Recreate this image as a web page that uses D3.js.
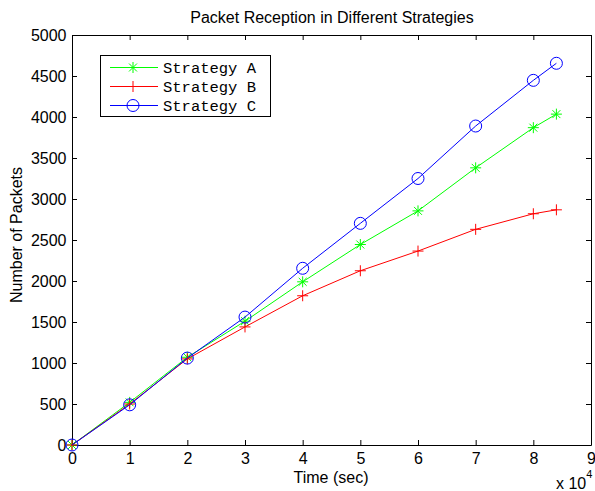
<!DOCTYPE html>
<html><head><meta charset="utf-8">
<script src="https://d3js.org/d3.v7.min.js"></script>
<style>body{margin:0;background:#fff}</style>
</head><body>
<script>
const times = [0, 10000, 20000, 30000, 40000, 50000, 60000, 70000, 80000, 84000];
const strategyA = [0, 520, 1070, 1510, 1990, 2445, 2855, 3380, 3870, 4035];
const strategyB = [0, 500, 1050, 1440, 1820, 2125, 2365, 2630, 2820, 2868];
const strategyC = [0, 490, 1060, 1560, 2155, 2703, 3250, 3890, 4447, 4655];
const seriesNames = ["Strategy A", "Strategy B", "Strategy C"];
const xTicks = [0,10000,20000,30000,40000,50000,60000,70000,80000,90000];
const yTicks = [0,500,1000,1500,2000,2500,3000,3500,4000,4500,5000];

const W=595,H=491, L=72, R=591, T=35, B=445;
const svg=d3.select("body").append("svg").attr("width",W).attr("height",H);
const x=d3.scaleLinear().domain([0,90000]).range([L,R]);
const y=d3.scaleLinear().domain([0,5000]).range([B,T]);
const font="Liberation Sans, Arial, Helvetica, sans-serif";
const fs=16;

svg.append("rect").attr("x",L).attr("y",T).attr("width",R-L).attr("height",B-T).attr("fill","#fff");

// axes
const tl=5;
const gx=svg.append("g").attr("transform",`translate(0,${B})`)
  .call(d3.axisBottom(x).tickValues(xTicks).tickFormat(d=>d/10000).tickSizeInner(-tl).tickSizeOuter(0).tickPadding(0));
const gxt=svg.append("g").attr("transform",`translate(0,${T})`)
  .call(d3.axisTop(x).tickValues(xTicks).tickFormat("").tickSizeInner(-tl).tickSizeOuter(0));
const gy=svg.append("g").attr("transform",`translate(${L},0)`)
  .call(d3.axisLeft(y).tickValues(yTicks).tickFormat(d3.format("d")).tickSizeInner(-tl).tickSizeOuter(0).tickPadding(0));
const gyr=svg.append("g").attr("transform",`translate(${R},0)`)
  .call(d3.axisRight(y).tickValues(yTicks).tickFormat("").tickSizeInner(-tl).tickSizeOuter(0));
[gx,gxt,gy,gyr].forEach(g=>{
  g.selectAll("path,line").attr("stroke","#000").attr("stroke-width",1);
  g.selectAll("text").attr("font-family",font).attr("font-size",fs).attr("fill","#000");
});
gx.selectAll("text").attr("y",19).attr("dy",0);
gy.selectAll("text").attr("x",-5.5);

const data=[
 {name:seriesNames[0],vals:strategyA,color:"#00ff00",marker:"star"},
 {name:seriesNames[1],vals:strategyB,color:"#ff0000",marker:"plus"},
 {name:seriesNames[2],vals:strategyC,color:"#0000ff",marker:"circle"}
];
function drawMarker(g,type,cx,cy,color){
  const s=5.5;
  if(type==="circle"){
    g.append("circle").attr("cx",cx).attr("cy",cy).attr("r",6).attr("fill","none").attr("stroke",color).attr("stroke-width",1);
  } else if(type==="plus"){
    g.append("path").attr("d",`M${cx-s},${cy}H${cx+s}M${cx},${cy-s}V${cy+s}`).attr("stroke",color).attr("stroke-width",1).attr("fill","none");
  } else {
    const d=s*0.72;
    g.append("path").attr("d",`M${cx-s},${cy}H${cx+s}M${cx},${cy-s}V${cy+s}M${cx-d},${cy-d}L${cx+d},${cy+d}M${cx-d},${cy+d}L${cx+d},${cy-d}`)
      .attr("stroke",color).attr("stroke-width",1).attr("fill","none");
  }
}
const line=d3.line().x(d=>x(d[0])).y(d=>y(d[1]));
data.forEach(s=>{
  const pts=times.map((t,i)=>[t,s.vals[i]]);
  svg.append("path").datum(pts).attr("d",line).attr("fill","none").attr("stroke",s.color).attr("stroke-width",1);
  const g=svg.append("g");
  pts.forEach(p=>drawMarker(g,s.marker,x(p[0]),y(p[1]),s.color));
});

// legend
const lg=svg.append("g");
lg.append("rect").attr("x",100.5).attr("y",55.5).attr("width",170).attr("height",61).attr("fill","#fff").attr("stroke","#000").attr("stroke-width",1);
data.forEach((s,i)=>{
  const yy=67.5+i*19;
  lg.append("line").attr("x1",110).attr("x2",158).attr("y1",yy).attr("y2",yy).attr("stroke",s.color).attr("stroke-width",1);
  drawMarker(lg,s.marker,133,yy,s.color);
  lg.append("text").attr("x",163).attr("y",yy).attr("dy","0.35em").text(s.name)
    .attr("font-family","'Courier New', 'Liberation Mono', monospace").attr("font-size",15.5).attr("fill","#000");
});

// labels
svg.append("text").attr("x",332).attr("y",23).attr("text-anchor","middle").attr("font-family",font).attr("font-size",fs).text("Packet Reception in Different Strategies");
svg.append("text").attr("x",331).attr("y",483).attr("text-anchor","middle").attr("font-family",font).attr("font-size",fs).text("Time (sec)");
svg.append("text").attr("transform",`translate(22,235) rotate(-90)`).attr("text-anchor","middle").attr("font-family",font).attr("font-size",fs).text("Number of Packets");
const ex=svg.append("text").attr("x",556).attr("y",489).attr("font-family",font).attr("font-size",fs);
ex.append("tspan").text("x 10");
ex.append("tspan").attr("dy",-11).attr("font-size",11).text("4");
</script>
</body></html>
